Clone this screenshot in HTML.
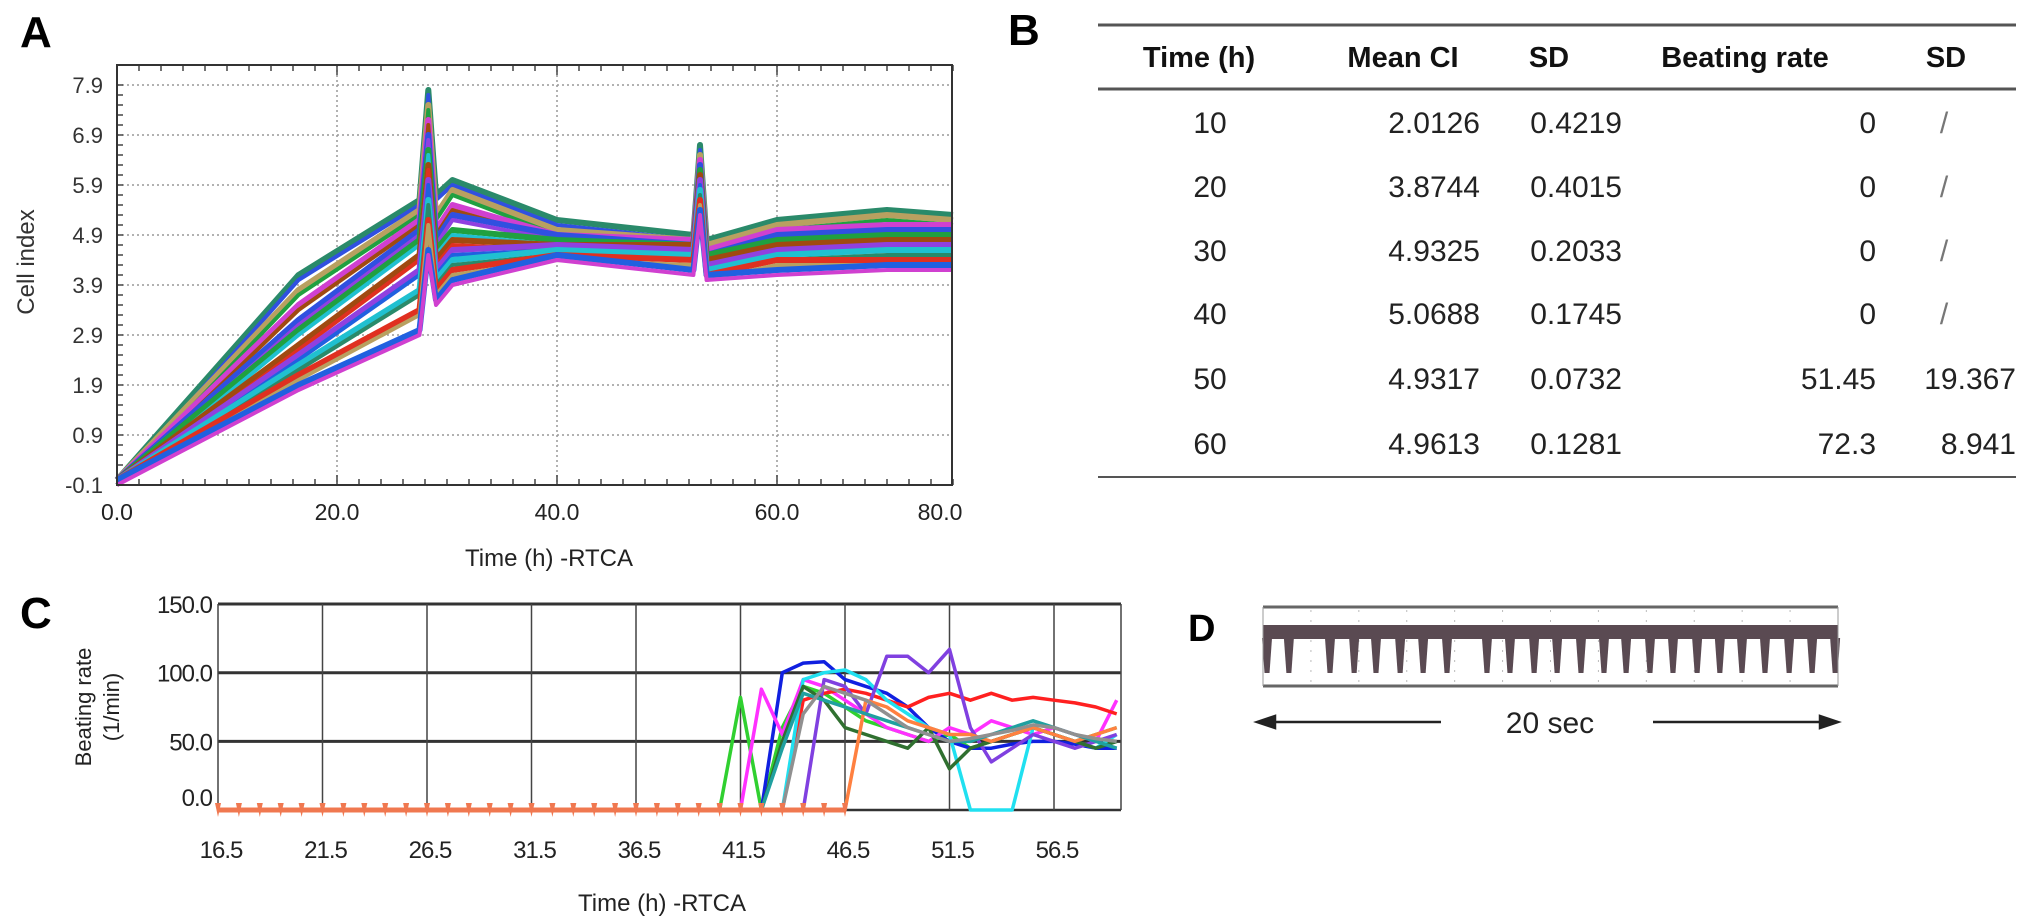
<!DOCTYPE html>
<html><head><meta charset="utf-8"><style>
html,body{margin:0;padding:0;background:#fff;}
svg{display:block;font-family:"Liberation Sans",sans-serif;}
</style></head><body>
<svg id="fig" width="2031" height="922" viewBox="0 0 2031 922" xmlns="http://www.w3.org/2000/svg">
<rect width="2031" height="922" fill="#fff"/>
<text x="20" y="47" font-size="44" font-weight="bold">A</text>
<text x="1008" y="45" font-size="44" font-weight="bold">B</text>
<text x="20" y="628" font-size="44" font-weight="bold">C</text>
<text x="1188" y="641" font-size="38" font-weight="bold">D</text>
<g id="chartA"></g>
<g id="tableB"></g>
<g id="chartC"></g>
<g id="chartD"></g>
</svg>
<script>
// ===== Panel A data =====
const aTimes = [0, 16.5, 27.5, 28.3, 29.0, 30.5, 40, 52.4, 53.0, 53.6, 60, 70, 76];
const aSeries1 = [0, 4.1, 5.6, 7.8, 5.7, 6.0, 5.2, 4.9, 6.7, 4.8, 5.2, 5.4, 5.3];
const aSeries2 = [0, 3.8, 5.4, 7.5, 5.3, 5.8, 5.0, 4.8, 6.5, 4.7, 5.1, 5.3, 5.2];
const aSeries3 = [0, 3.5, 5.2, 7.2, 5.0, 5.5, 4.9, 4.8, 6.4, 4.6, 5.0, 5.1, 5.1];
const aSeries4 = [0, 3.2, 5.0, 6.9, 4.8, 5.3, 4.9, 4.7, 6.3, 4.5, 4.9, 5.0, 5.0];
const aSeries5 = [0, 3.0, 4.8, 6.6, 4.6, 5.0, 4.8, 4.7, 6.2, 4.5, 4.8, 4.9, 4.9];
const aSeries6 = [0, 2.7, 4.5, 6.3, 4.4, 4.8, 4.7, 4.7, 6.1, 4.4, 4.7, 4.8, 4.8];
const aSeries7 = [0, 2.5, 4.2, 6.0, 4.2, 4.6, 4.7, 4.6, 6.0, 4.3, 4.6, 4.7, 4.7];
const aSeries8 = [0, 2.3, 3.8, 5.6, 4.0, 4.4, 4.6, 4.5, 5.8, 4.2, 4.5, 4.6, 4.6];
const aSeries9 = [0, 2.1, 3.4, 5.2, 3.8, 4.2, 4.5, 4.4, 5.6, 4.1, 4.4, 4.4, 4.4];
const aSeries10 = [0, 1.9, 3.0, 4.6, 3.6, 4.0, 4.5, 4.2, 5.4, 4.1, 4.2, 4.3, 4.3];
const aColors = ["#2a8a6a","#b8a060","#d040d0","#3050e0","#20a040","#a04a10","#9040e0","#20c0d0","#e03020","#2060e0"];
const aYTicks = [-0.1, 0.9, 1.9, 2.9, 3.9, 4.9, 5.9, 6.9, 7.9];
const aXTicks = [0, 20, 40, 60];
const aXLabels = ["0.0", "20.0", "40.0", "60.0", "80.0"];

// ===== Panel B data =====
const bHeaders = ["Time (h)", "Mean CI", "SD", "Beating rate", "SD"];
const bTime = ["10","20","30","40","50","60"];
const bMean = ["2.0126","3.8744","4.9325","5.0688","4.9317","4.9613"];
const bSD = ["0.4219","0.4015","0.2033","0.1745","0.0732","0.1281"];
const bRate = ["0","0","0","0","51.45","72.3"];
const bRateSD = ["/","/","/","/","19.367","8.941"];

// ===== Panel C data =====
const cTimes = [40.5,41.5,42.5,43.5,44.5,45.5,46.5,47.5,48.5,49.5,50.5,51.5,52.5,53.5,54.5,55.5,56.5,57.5,58.5,59.5];
const cGreen  = [0,82,0,60,90,85,75,65,60,55,50,55,45,50,55,60,55,50,55,60];
const cBlue   = [0,0,0,100,107,108,95,90,85,75,60,50,45,45,48,50,50,48,45,45];
const cMagenta= [0,0,88,55,95,90,80,70,60,55,50,60,55,65,60,55,60,55,50,80];
const cRed    = [0,0,0,0,80,85,88,85,80,75,82,85,80,85,80,82,80,78,75,70];
const cCyan   = [0,0,0,0,95,100,102,95,80,70,60,55,0,0,0,60,55,50,45,55];
const cPurple = [0,0,0,0,0,95,90,70,112,112,100,117,60,35,45,55,50,45,50,55];
const cOlive  = [0,0,0,50,90,80,60,55,50,45,60,30,45,50,55,60,55,50,45,50];
const cOrange = [0,0,0,0,0,0,0,80,75,65,60,55,55,50,55,60,55,50,55,60];
const cTeal   = [0,0,0,45,85,80,75,70,65,60,55,50,50,55,60,65,60,55,50,45];
const cGray   = [0,0,0,0,70,90,85,80,70,60,55,50,52,55,58,62,60,55,52,50];
const cColors = ["#30d030","#1020e0","#ff30ff","#ff2020","#20e0f0","#8040e0","#307030","#ff8040","#20a0a0","#909090"];
const cBaseTimes = [16.5,17.5,18.5,19.5,20.5,21.5,22.5,23.5,24.5,25.5,26.5,27.5,28.5,29.5,30.5,31.5,32.5,33.5,34.5,35.5,36.5,37.5,38.5,39.5,40.5,41.5,42.5,43.5,44.5,45.5,46.5];
const cYTicks = [0, 50, 100, 150];
const cXTicks = [16.5,21.5,26.5,31.5,36.5,41.5,46.5,51.5,56.5];

// ===== Panel D data =====
const dBeats = [0.14,0.90,2.33,3.17,3.93,4.77,5.57,6.40,7.79,8.59,9.43,10.23,11.06,11.86,12.63,13.46,14.26,15.10,15.89,16.66,17.46,18.30,19.10,19.90];

const NS = "http://www.w3.org/2000/svg";
function mk(parent, tag, attrs, text){
  const e = document.createElementNS(NS, tag);
  for (const k in attrs) e.setAttribute(k, attrs[k]);
  if (text !== undefined) e.textContent = text;
  parent.appendChild(e);
  return e;
}

// ---------- Panel A ----------
(function(){
  const g = document.getElementById('chartA');
  const L=117, R=952, T=65, B=485;
  const xA = t => L + t*11;
  const yA = v => 485 - (v + 0.1)*50;
  aYTicks.forEach(v=>{
    if (v > -0.1) { const l = mk(g,'line',{x1:L,x2:R,y1:yA(v),y2:yA(v),stroke:'#999','stroke-width':1.5,'stroke-dasharray':'2,3'});
    
     }
    const t = mk(g,'text',{x:103,y:yA(v)+8,'font-size':22,'text-anchor':'end',fill:'#333'}, v.toFixed(1));
    
    
  });
  aXTicks.forEach(v=>{
    if (v>0){ const l = mk(g,'line',{x1:xA(v),x2:xA(v),y1:T,y2:B,stroke:'#999','stroke-width':1.5,'stroke-dasharray':'2,3'});
    
     }
  });
  aXLabels.forEach((s,i)=>{
    const x = i<4 ? xA(aXTicks[i]) : 940;
    const t = mk(g,'text',{x:x,y:520,'font-size':23,'text-anchor':'middle',fill:'#222'}, s);
    
    
  });
  for (let t=0;t<=76;t+=2){ const big = t%20===0;
    mk(g,'line',{x1:xA(t),x2:xA(t),y1:B,y2:B-(big?10:6),stroke:'#444','stroke-width':1.5});
    mk(g,'line',{x1:xA(t),x2:xA(t),y1:T,y2:T+(big?10:6),stroke:'#444','stroke-width':1.5});
  }
  for (let v=-0.1;v<=8.0;v+=0.2){ mk(g,'line',{x1:L,x2:L+6,y1:yA(v),y2:yA(v),stroke:'#444','stroke-width':1.5}); }
  const all=[aSeries1,aSeries2,aSeries3,aSeries4,aSeries5,aSeries6,aSeries7,aSeries8,aSeries9,aSeries10];
  all.forEach((s,i)=>{
    const d = s.map((v,j)=>(j?'L':'M')+xA(aTimes[j]).toFixed(1)+','+yA(v).toFixed(1)).join(' ');
    const p = mk(g,'path',{d:d,fill:'none',stroke:aColors[i],'stroke-width':6,'stroke-linejoin':'round'});
    
    
    const d2 = s.map((v,j)=>(j?'L':'M')+xA(aTimes[j]).toFixed(1)+','+(yA(v)+5).toFixed(1)).join(' ');
    mk(g,'path',{d:d2,fill:'none',stroke:aColors[(i+3)%10],'stroke-width':4,'stroke-linejoin':'round'});
  });
  const box = mk(g,'rect',{x:L,y:T,width:R-L,height:B-T,fill:'none',stroke:'#333','stroke-width':2});
  
  
  const yt = mk(g,'text',{x:0,y:0,'font-size':24,'text-anchor':'middle',fill:'#333',transform:'translate(34,262) rotate(-90)'},'Cell index');
  
  
  const xt = mk(g,'text',{x:549,y:566,'font-size':24,'text-anchor':'middle',fill:'#222'},'Time (h) -RTCA');
  
  
})();

// ---------- Panel B ----------
(function(){
  const g = document.getElementById('tableB');
  [25,89,477].forEach((y,i)=>{
    const l = mk(g,'line',{x1:1098,x2:2016,y1:y,y2:y,stroke:'#555','stroke-width':i===2?2:3});
    
    
  });
  const hx=[1199,1403,1549,1745,1946];
  bHeaders.forEach((h,i)=>{
    const t = mk(g,'text',{x:hx[i],y:67,'font-size':29,'font-weight':'bold','text-anchor':'middle',fill:'#111'},h);
    
    
  });
  const rowY=[122,186,250,313,378,443];
  bTime.forEach((v,i)=>{
    const y=rowY[i]+11;
    const cells=[[bTime[i],1210,'middle'],[bMean[i],1480,'end'],[bSD[i],1622,'end'],[bRate[i],1876,'end'],[bRateSD[i],bRateSD[i]==='/'?1944:2016,bRateSD[i]==='/'?'middle':'end']];
    cells.forEach(c=>{
      const t = mk(g,'text',{x:c[1],y:y,'font-size':30,'text-anchor':c[2],fill:c[0]==='/'?'#777':'#222'},c[0]);
      
      
    });
  });
})();

// ---------- Panel C ----------
(function(){
  const g = document.getElementById('chartC');
  const L=218, R=1121;
  const xC = t => L + (t-16.5)*20.9;
  const yC = v => 810 - v*1.373;
  cYTicks.forEach(v=>{
    const l = mk(g,'line',{x1:L,x2:R,y1:yC(v),y2:yC(v),stroke:'#333','stroke-width':v===0?2.5:3});
    
    
    const ly = v===0 ? yC(v)-4 : yC(v)+9;
    const t = mk(g,'text',{x:212,y:ly,'font-size':24,'text-anchor':'end',fill:'#222','letter-spacing':'-1'},v.toFixed(1));
    
    
  });
  cXTicks.forEach(v=>{
    const l = mk(g,'line',{x1:xC(v),x2:xC(v),y1:yC(150),y2:yC(0),stroke:'#444','stroke-width':1.5});
    
    
    const t = mk(g,'text',{x:xC(v)+3,y:858,'font-size':24,'text-anchor':'middle',fill:'#222','letter-spacing':'-1'},v.toFixed(1));
    
    
  });
  mk(g,'line',{x1:R,x2:R,y1:yC(150),y2:yC(0),stroke:'#444','stroke-width':1.5});
  const all=[cGreen,cBlue,cMagenta,cRed,cCyan,cPurple,cOlive,cOrange,cTeal,cGray];
  all.forEach((s,i)=>{
    const d = s.map((v,j)=>(j?'L':'M')+xC(cTimes[j]).toFixed(1)+','+yC(v).toFixed(1)).join(' ');
    const p = mk(g,'path',{d:d,fill:'none',stroke:cColors[i],'stroke-width':3.5,'stroke-linejoin':'round'});
    
    
  });
  const bd = cBaseTimes.map((t,j)=>(j?'L':'M')+xC(t).toFixed(1)+','+yC(0)).join(' ');
  const bl = mk(g,'path',{d:bd,fill:'none',stroke:'#f07850','stroke-width':5});
  
  
  cBaseTimes.forEach(t=>{
    const m = mk(g,'path',{d:`M${xC(t)-3},${yC(0)-7} L${xC(t)+3},${yC(0)-7} L${xC(t)},${yC(0)+7} Z`,fill:'#f07850'});
    
    
  });
  const y1 = mk(g,'text',{x:0,y:0,'font-size':22,'text-anchor':'middle',fill:'#222',transform:'translate(91,707) rotate(-90)'},'Beating rate');
  
  
  const y2 = mk(g,'text',{x:0,y:0,'font-size':22,'text-anchor':'middle',fill:'#222',transform:'translate(119,707) rotate(-90)'},'(1/min)');
  
  
  const xt = mk(g,'text',{x:662,y:911,'font-size':24,'text-anchor':'middle',fill:'#222'},'Time (h) -RTCA');
  
  
})();

// ---------- Panel D ----------
(function(){
  const g = document.getElementById('chartD');
  const L=1263, R=1838;
  const xD = s => L + s/20*(R-L);
  for (let i=1;i<12;i++){ mk(g,'line',{x1:L+i*(R-L)/12,x2:L+i*(R-L)/12,y1:610,y2:684,stroke:'#bbb','stroke-width':1,'stroke-dasharray':'2,8'}); }
  const band = mk(g,'rect',{x:L,y:625,width:R-L,height:14,fill:'#5a4a52'});
  
  
  dBeats.forEach(s=>{
    const x = xD(s);
    const sp = mk(g,'path',{d:`M${x-5},638 L${x+5},638 L${x+2.5},673 L${x-2.5},673 Z`,fill:'#5a4a52'});
    
    
  });
  [607,686].forEach(y=>{ mk(g,'line',{x1:L,x2:R,y1:y,y2:y,stroke:'#666','stroke-width':3}); });
  mk(g,'line',{x1:L,x2:L,y1:607,y2:686,stroke:'#999','stroke-width':1});
  mk(g,'line',{x1:R,x2:R,y1:607,y2:686,stroke:'#999','stroke-width':1});
  const a1 = mk(g,'path',{d:'M1441,722 L1272,722 M1257,722 L1275,716 L1275,728 Z',stroke:'#222','stroke-width':2.5,fill:'#222'});
  
  
  const a2 = mk(g,'path',{d:'M1653,722 L1823,722 M1838,722 L1820,716 L1820,728 Z',stroke:'#222','stroke-width':2.5,fill:'#222'});
  
  
  const t = mk(g,'text',{x:1550,y:733,'font-size':30,'text-anchor':'middle',fill:'#222'},'20 sec');
  
  
})();
</script>
</body></html>
